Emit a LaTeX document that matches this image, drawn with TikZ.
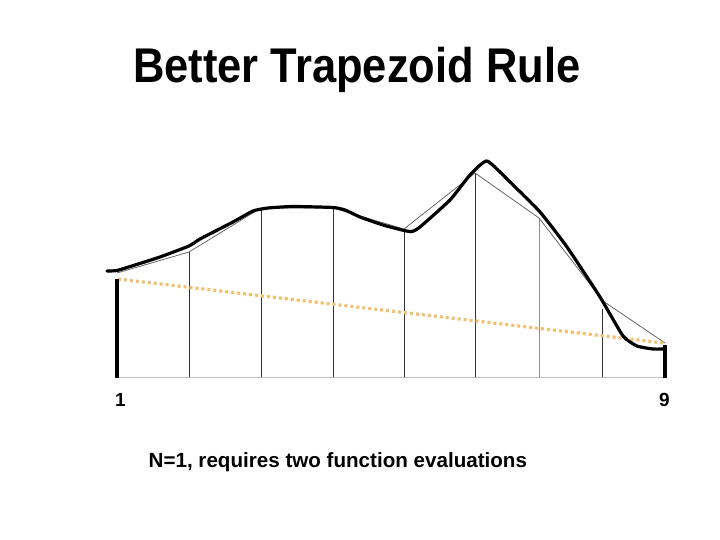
\documentclass[tikz,border=0pt]{standalone}
\usepackage{fontspec}
\setmainfont{Liberation Sans}
\usetikzlibrary{calc}
\definecolor{dotorange}{HTML}{F2C070}
\tikzset{
  ordinate/.style={line width=0.9pt, draw=black!80},
  lightordinate/.style={line width=0.9pt, draw=black!45},
  chord/.style={line width=0.8pt, draw=black!60},
  curve/.style={line width=3.2pt, line join=round, line cap=round},
  endline/.style={line width=3.6pt},
  trap/.style={line width=3.2pt, draw=dotorange, dash pattern=on 3pt off 3pt},
  lbl/.style={inner sep=0pt, anchor=base}
}
\begin{document}
\begin{tikzpicture}[x=1pt,y=-1pt]
\useasboundingbox (0,0) rectangle (720,540);
% sample points of the chord polyline
\coordinate (p1) at (117,273);
\coordinate (p2) at (189,252);
\coordinate (p3) at (261,208);
\coordinate (p4) at (333,208);
\coordinate (p5) at (404,229);
\coordinate (p6) at (475,173);
\coordinate (p7) at (539,218);
\coordinate (p8) at (603,301);
\coordinate (p9) at (665,343);
% baseline
\draw[line width=0.9pt, draw=black!25] (117,377) -- (665,377);
% ordinates
\draw[ordinate] (189,377) -- (p2);
\draw[ordinate] (261,377) -- (p3);
\draw[ordinate] (333,377) -- (p4);
\draw[ordinate] (404,377) -- (p5);
\draw[ordinate] (475,377) -- (p6);
\draw[lightordinate] (539,377) -- (p7);
\draw[ordinate] (602,377) -- (602,309);
% chords
\draw[chord] (p1) -- (p2) -- (p3) -- (p4) -- (p5) -- (p6) -- (p7) -- (p8) -- (p9);
% orange trapezoid top
\draw[trap] (118,279) -- (664,343);
% end ordinates
\draw[endline] (117,377.5) -- (117,279);
\draw[endline] (665,377.5) -- (665,345);
% function curve
\draw[curve] plot[smooth, tension=0.3] coordinates {
 (107,271) (117,270.5) (135,265) (160,257) (189,246) (200,239) (233,222) (253,211)
 (268,208) (293,206.5) (333,207.5) (345,210) (360,217) (383,225) (404,230.5) (412,231.5)
 (420,227) (450,200) (470,175) (487,161) (510,182) (540,212) (567,247) (600,297)
 (623,336) (637,346) (653,349) (665,349)};
% labels
\node[lbl, font=\bfseries\fontsize{19}{19}\selectfont] (one) at (120.5,406.5) {1};
\node[lbl, font=\bfseries\fontsize{19}{19}\selectfont] (nine) at (664.5,406.5) {9};
\node[inner sep=0pt, anchor=base west, font=\bfseries\fontsize{20.6}{21}\selectfont] (cap) at (148.5,467) {N=1, requires two function evaluations};
\node[inner sep=0pt, anchor=base west, font=\bfseries\fontsize{43.5}{44}\selectfont] (title) at (133,82.5) {\scalebox{1}[1.12]{Better Trapezoid Rule}};
\end{tikzpicture}
\end{document}
